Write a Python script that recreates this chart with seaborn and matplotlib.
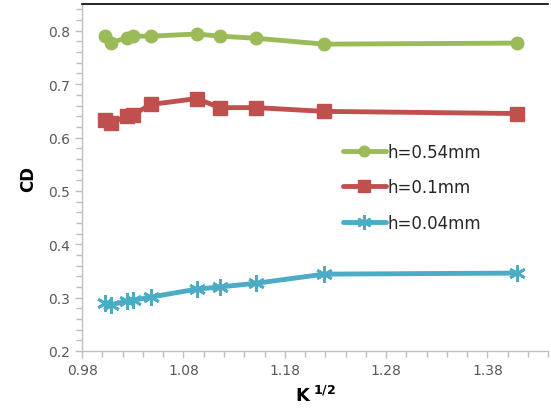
import matplotlib
matplotlib.use("Agg")
import matplotlib.pyplot as plt
import seaborn as sns
import pandas as pd
from matplotlib.ticker import MultipleLocator, FormatStrFormatter

sns.set_theme(style="white")
plt.rcParams['font.family'] = ['DejaVu Sans']

k_sqrt = [1.003, 1.009, 1.024, 1.030, 1.048, 1.093, 1.116, 1.152, 1.219, 1.409]
cd_054 = [0.790, 0.778, 0.787, 0.790, 0.790, 0.794, 0.790, 0.786, 0.775, 0.777]
cd_01 = [0.632, 0.628, 0.640, 0.643, 0.662, 0.673, 0.656, 0.656, 0.649, 0.645]
cd_004 = [0.290, 0.287, 0.293, 0.295, 0.301, 0.316, 0.320, 0.327, 0.344, 0.346]
labels = ["h=0.54mm", "h=0.1mm", "h=0.04mm"]
colors = ["#9BBB59", "#C0504D", "#4BACC6"]

fig = plt.figure(figsize=(5.51, 4.10), dpi=100)
ax = fig.add_axes([0.149, 0.1415, 0.846, 0.846])

series = [cd_054, cd_01, cd_004]
markers = ["o", "s", (6, 2, 0)]
msizes = [9, 10, 12]
for vals, lab, col, mk, ms in zip(series, labels, colors, markers, msizes):
    df = pd.DataFrame({"x": k_sqrt, "y": vals})
    sns.lineplot(data=df, x="x", y="y", ax=ax, color=col, linewidth=3.5,
                 marker=mk, markersize=ms, markeredgecolor=col,
                 markeredgewidth=2 if mk == (6, 2, 0) else 1, label=lab,
                 sort=False, estimator=None)

ax.set_xlim(0.98, 1.44)
ax.set_ylim(0.2, 0.85)
ax.xaxis.set_minor_locator(MultipleLocator(0.02))
ax.yaxis.set_major_locator(MultipleLocator(0.1))
ax.yaxis.set_minor_locator(MultipleLocator(0.02))
ax.set_xticks([0.98, 1.08, 1.18, 1.28, 1.38])
ax.xaxis.set_major_formatter(FormatStrFormatter('%.2f'))
ax.yaxis.set_major_formatter(FormatStrFormatter('%.1f'))

ax.tick_params(axis='both', which='both', direction='out', color='#BFBFBF',
               labelcolor='#595959', labelsize=10)
ax.tick_params(which='major', length=5, width=1)
ax.tick_params(which='minor', length=4, width=1)
ax.tick_params(axis='x', which='both', bottom=True)
ax.tick_params(axis='y', which='both', left=True)

for s in ['left', 'bottom']:
    ax.spines[s].set_color('#BFBFBF')
    ax.spines[s].set_linewidth(1)
ax.spines['top'].set_color('black')
ax.spines['top'].set_linewidth(1.2)
ax.spines['right'].set_visible(False)

ax.set_ylabel("CD", fontsize=12, fontweight='bold', color='black', labelpad=8)
ax.set_xlabel(r"$\mathbf{K}^{\ \mathbf{1/2}}$", fontsize=13, color='black', labelpad=6)

leg = ax.legend(loc='upper left', bbox_to_anchor=(0.545, 0.62), frameon=False,
                fontsize=12, handlelength=2.6, labelspacing=1.05, handletextpad=0.1,
                borderaxespad=0, markerscale=0.85)
for t in leg.get_texts():
    t.set_color('#262626')

fig.savefig("out.png", dpi=100)
